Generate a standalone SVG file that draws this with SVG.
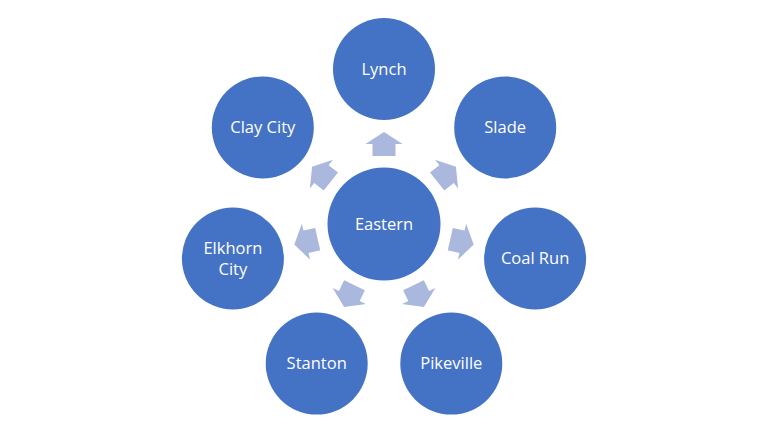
<svg xmlns="http://www.w3.org/2000/svg" xmlns:xlink="http://www.w3.org/1999/xlink" width="768" height="432" viewBox="0 0 768 432">
  <style>
    .node { fill: #4472C4; }
    .arrow { fill: #A9B8DC; }
    .lbl { fill: #FFFFFF; font-family: "Open Sans", "Noto Sans", "Liberation Sans", sans-serif; font-size: 16.5px; text-anchor: middle; dominant-baseline: central; }
  </style>
  <defs>
    <polygon id="arr" class="arrow" points="384,132 402.5,144 395.5,144 395.5,156 372.5,156 372.5,144 365.5,144"/>
  </defs>
  <rect width="768" height="432" fill="#FFFFFF"/>
  <g id="connectors">
    <use xlink:href="#arr" href="#arr"/>
    <use xlink:href="#arr" href="#arr" transform="rotate(51.43 384 224)"/>
    <use xlink:href="#arr" href="#arr" transform="rotate(102.86 384 224)"/>
    <use xlink:href="#arr" href="#arr" transform="rotate(154.29 384 224)"/>
    <use xlink:href="#arr" href="#arr" transform="rotate(205.71 384 224)"/>
    <use xlink:href="#arr" href="#arr" transform="rotate(257.14 384 224)"/>
    <use xlink:href="#arr" href="#arr" transform="rotate(308.57 384 224)"/>
  </g>
  <g id="eastern">
    <circle class="node" cx="384" cy="224" r="56.5"/>
    <text class="lbl" x="384" y="223">Eastern</text>
  </g>
  <g id="lynch">
    <circle class="node" cx="384" cy="69" r="51"/>
    <text class="lbl" x="384" y="68">Lynch</text>
  </g>
  <g id="slade">
    <circle class="node" cx="505.2" cy="127.4" r="51"/>
    <text class="lbl" x="505.2" y="126.5">Slade</text>
  </g>
  <g id="coal-run">
    <circle class="node" cx="535.1" cy="258.5" r="51"/>
    <text class="lbl" x="535.1" y="257.5">Coal Run</text>
  </g>
  <g id="pikeville">
    <circle class="node" cx="451.3" cy="363.6" r="51"/>
    <text class="lbl" x="451.3" y="362.6">Pikeville</text>
  </g>
  <g id="stanton">
    <circle class="node" cx="316.7" cy="363.6" r="51"/>
    <text class="lbl" x="316.7" y="362.6">Stanton</text>
  </g>
  <g id="elkhorn-city">
    <circle class="node" cx="232.9" cy="258.5" r="51"/>
    <text class="lbl" x="232.9" y="247.3">Elkhorn</text>
    <text class="lbl" x="232.9" y="268.7">City</text>
  </g>
  <g id="clay-city">
    <circle class="node" cx="262.8" cy="127.4" r="51"/>
    <text class="lbl" x="262.8" y="126.5">Clay City</text>
  </g>
</svg>
